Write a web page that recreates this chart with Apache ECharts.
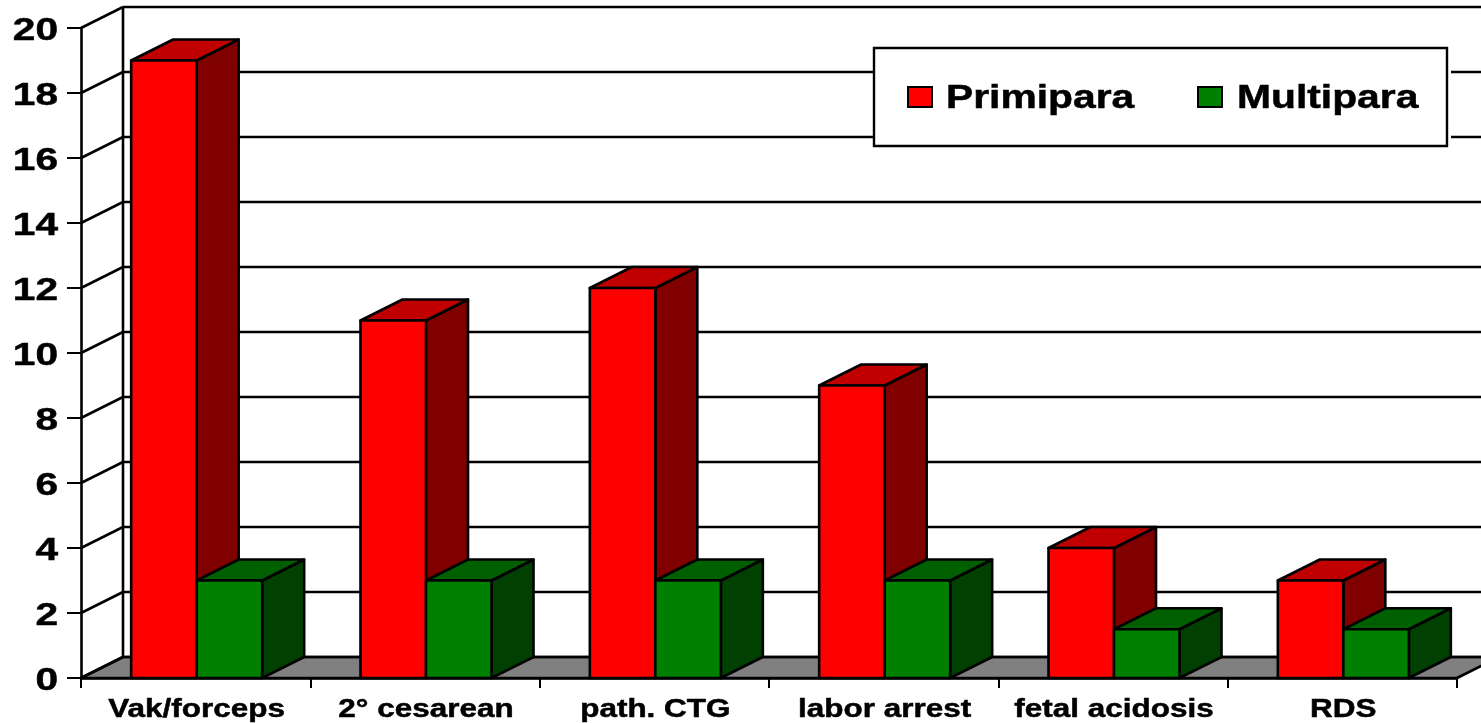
<!DOCTYPE html>
<html>
<head>
<meta charset="utf-8">
<style>
  html, body { margin: 0; padding: 0; background: #fff; }
  #chart { width: 1481px; height: 723px; }
</style>
<script src="https://cdn.jsdelivr.net/npm/echarts@6/dist/echarts.min.js"></script>
</head>
<body>
<div id="chart"></div>
<script>
var categories = ['Vak/forceps', '2° cesarean', 'path. CTG', 'labor arrest', 'fetal acidosis', 'RDS']
var primipara = [19, 11, 12, 9, 4, 3]
var multipara = [3, 3, 3, 3, 1.5, 1.5]
var yTicks = [0, 2, 4, 6, 8, 10, 12, 14, 16, 18, 20]

// depth of the fake 3d box
var DX = 42
var DY = -21
var BAR_W = 65.5
var LINE = 2.6
var FONT = 'bold 26px "Liberation Sans", Arial, sans-serif'
var FONT_Y = 'bold 32px "Liberation Sans", Arial, sans-serif'
var FONT_LEGEND = 'bold 34px "Liberation Sans", Arial, sans-serif'

function poly(points, fill) {
  return {
    type: 'polygon',
    shape: { points: points },
    style: { fill: fill, stroke: '#000', lineWidth: LINE, lineJoin: 'round' }
  }
}

function line(x1, y1, x2, y2, w) {
  return {
    type: 'line',
    shape: { x1: x1, y1: y1, x2: x2, y2: y2 },
    style: { stroke: '#000', lineWidth: w || LINE, fill: null }
  }
}

function stretchedText(text, x, y, font, align, sx) {
  return {
    type: 'text',
    x: x,
    y: y,
    scaleX: sx,
    z2: 10,
    style: {
      text: text, font: font, fill: '#000', align: align, verticalAlign: 'middle',
      stroke: '#000', lineWidth: 0.5
    }
  }
}

// back wall, side wall and floor, one item per y tick
function renderWall(params, api) {
  var v = api.value(0)
  var p = api.coord([0, v])
  var x0 = api.coord([0, 0])[0] - api.size([1, 0])[0] / 2
  var w = api.getWidth()
  var children = []
  if (v === 0) {
    var end = x0 + api.size([1, 0])[0] * categories.length
    children.push(poly([[x0, p[1]], [x0 + DX, p[1] + DY], [end + DX, p[1] + DY], [end, p[1]]], '#808080'))
    children.push(line(x0 + DX, p[1] + DY, x0 + DX, api.coord([0, 20])[1] + DY))
  }
  children.push(line(x0, p[1], x0 + DX, p[1] + DY))
  children.push(line(x0 + DX, p[1] + DY, w, p[1] + DY))
  children.push(stretchedText(String(v), x0 - 23, p[1] + 3, FONT_Y, 'right', 1.27))
  return { type: 'group', children: children }
}

function barRenderer(side, front, sideColor, topColor) {
  return function (params, api) {
    var top = api.coord([api.value(0), api.value(1)])
    var base = api.coord([api.value(0), 0])
    var x = top[0] + 1 + (side < 0 ? -BAR_W : 0)
    var r = x + BAR_W
    return {
      type: 'group',
      children: [
        poly([[r, top[1]], [r + DX, top[1] + DY], [r + DX, base[1] + DY], [r, base[1]]], sideColor),
        poly([[x, top[1]], [x + DX, top[1] + DY], [r + DX, top[1] + DY], [r, top[1]]], topColor),
        poly([[x, top[1]], [r, top[1]], [r, base[1]], [x, base[1]]], front)
      ]
    }
  }
}

function renderCatLabel(params, api) {
  var p = api.coord([api.value(0), 0])
  return stretchedText(categories[api.value(0)], p[0] + 1, p[1] + 32, FONT, 'center', 1.21)
}

function legendText(text, x) {
  return {
    type: 'text', x: x, y: 99, scaleX: 1.2, z: 103,
    style: {
      text: text, font: FONT_LEGEND, fill: '#000', align: 'left', verticalAlign: 'middle',
      stroke: '#000', lineWidth: 0.5
    }
  }
}

function legendBox(x, color) {
  return {
    type: 'rect', shape: { x: x, y: 87, width: 24, height: 20 }, z: 103,
    style: { fill: color, stroke: '#000', lineWidth: 2 }
  }
}

var chart = echarts.init(document.getElementById('chart'))
chart.setOption({
  animation: false,
  backgroundColor: '#fff',
  grid: { left: 81, right: 24, top: 28, bottom: 45 },
  xAxis: {
    type: 'category',
    data: categories,
    axisLine: { lineStyle: { color: '#000', width: LINE } },
    axisTick: { show: true, length: 10, lineStyle: { color: '#000', width: 2 } },
    axisLabel: { show: false }
  },
  yAxis: {
    type: 'value',
    min: 0,
    max: 20,
    interval: 2,
    axisLine: { show: true, lineStyle: { color: '#000', width: LINE } },
    axisTick: { show: true, length: 14, lineStyle: { color: '#000', width: 2 } },
    axisLabel: { show: false },
    splitLine: { show: false }
  },
  graphic: [
    { type: 'rect', shape: { x: 873, y: 47, width: 578, height: 100 }, z: 100, style: { fill: '#fff' } },
    { type: 'rect', shape: { x: 874, y: 48, width: 573, height: 98 }, z: 101, style: { fill: '#fff', stroke: '#000', lineWidth: 2.4 } },
    legendBox(908, '#ff0000'),
    legendText('Primipara', 946),
    legendBox(1198, '#008000'),
    legendText('Multipara', 1237)
  ],
  series: [
    {
      type: 'custom',
      name: 'wall',
      data: yTicks.map(function (v) { return [v] }),
      encode: { y: 0 },
      renderItem: renderWall,
      z: 1,
      silent: true
    },
    {
      type: 'custom',
      name: 'Primipara',
      data: primipara.map(function (v, i) { return [i, v] }),
      encode: { x: 0, y: 1 },
      renderItem: barRenderer(-1, '#ff0000', '#800000', '#c00000'),
      z: 3
    },
    {
      type: 'custom',
      name: 'Multipara',
      data: multipara.map(function (v, i) { return [i, v] }),
      encode: { x: 0, y: 1 },
      renderItem: barRenderer(1, '#008000', '#004000', '#006000'),
      z: 4
    },
    {
      type: 'custom',
      name: 'labels',
      data: categories.map(function (c, i) { return [i] }),
      encode: { x: 0 },
      renderItem: renderCatLabel,
      z: 5,
      silent: true
    }
  ]
})
</script>
</body>
</html>
